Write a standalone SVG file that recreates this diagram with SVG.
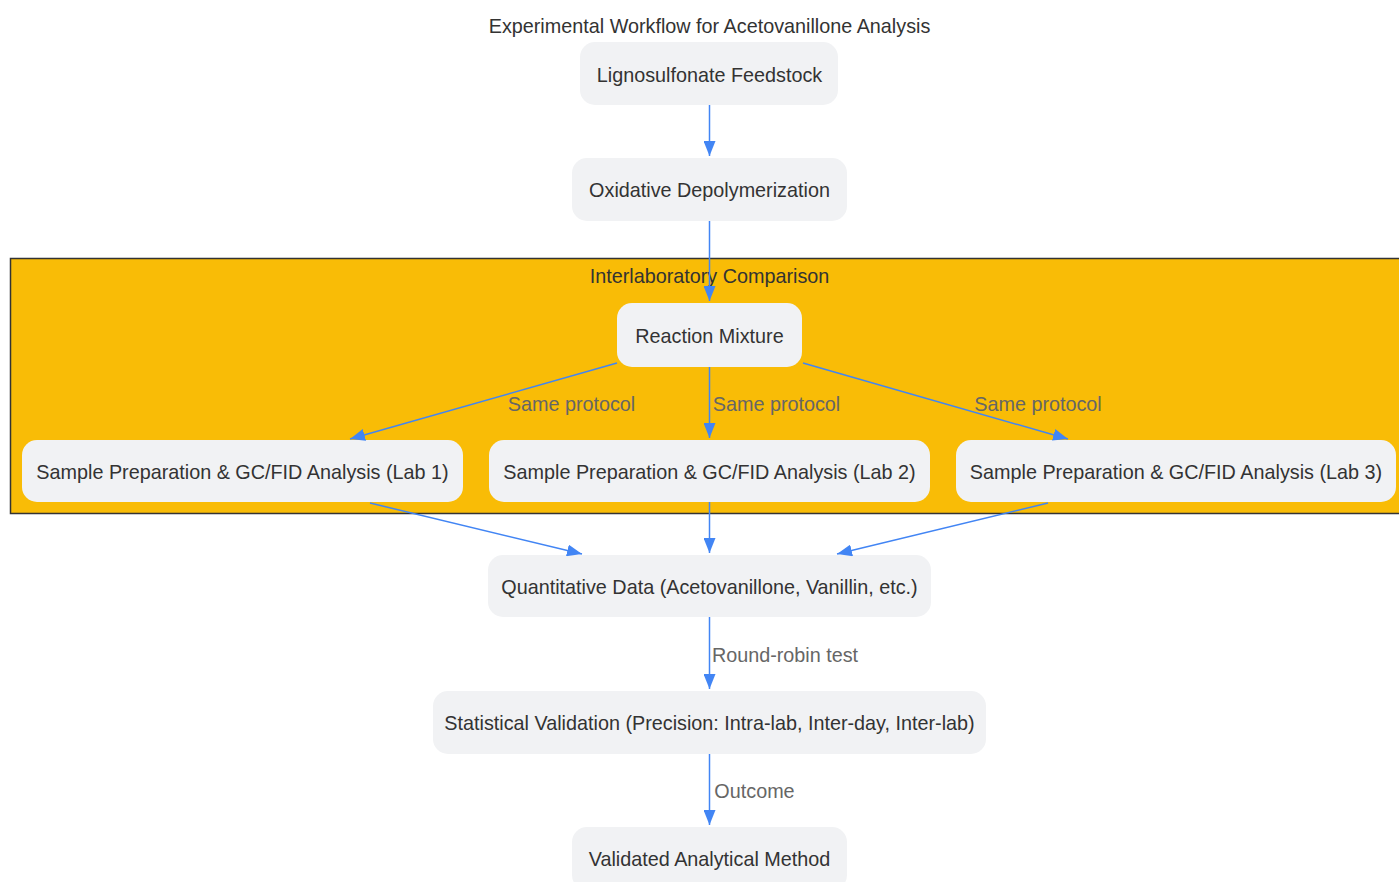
<svg xmlns="http://www.w3.org/2000/svg" width="1399" height="882" viewBox="0 0 1399 882">
<defs>
<marker id="arrow" markerUnits="userSpaceOnUse" markerWidth="16" markerHeight="12" refX="15" refY="6" orient="auto">
<path d="M0,0 L15,6 L0,12 z" fill="#4285F4"/>
</marker>
<style>
.node rect{fill:#F1F2F4;stroke:none}
.node text{font-family:"Liberation Sans",Arial,sans-serif;font-size:19.8px;fill:#333333;text-anchor:middle}
.title{font-family:"Liberation Sans",Arial,sans-serif;font-size:19.8px;fill:#333333;text-anchor:middle}
.edge{stroke:#4285F4;stroke-width:1.5;fill:none;marker-end:url(#arrow)}
.elabel{font-family:"Liberation Sans",Arial,sans-serif;font-size:19.8px;fill:#666666;text-anchor:middle}
</style>
</defs>
<rect x="0" y="0" width="1399" height="882" fill="#ffffff"/>
<text class="title" x="709.5" y="33">Experimental Workflow for Acetovanillone Analysis</text>
<g id="cluster">
<rect x="10.5" y="258.5" width="1400" height="255" fill="#F9BC06" stroke="#333333" stroke-width="1.5"/>
<text class="title" x="709.5" y="283">Interlaboratory Comparison</text>
</g>
<g id="node-lig" class="node"><rect x="580" y="42" width="258" height="63" rx="15"/><text x="709.5" y="82">Lignosulfonate Feedstock</text></g>
<g id="node-oxid" class="node"><rect x="572" y="158" width="275" height="63" rx="15"/><text x="709.5" y="197">Oxidative Depolymerization</text></g>
<g id="node-rm" class="node"><rect x="617" y="303" width="185" height="64" rx="15"/><text x="709.5" y="343">Reaction Mixture</text></g>
<g id="node-lab1" class="node"><rect x="22" y="440" width="441" height="62" rx="15"/><text x="242.5" y="479">Sample Preparation &amp; GC/FID Analysis (Lab 1)</text></g>
<g id="node-lab2" class="node"><rect x="489" y="440" width="441" height="62" rx="15"/><text x="709.5" y="479">Sample Preparation &amp; GC/FID Analysis (Lab 2)</text></g>
<g id="node-lab3" class="node"><rect x="956" y="440" width="440" height="62" rx="15"/><text x="1176" y="479">Sample Preparation &amp; GC/FID Analysis (Lab 3)</text></g>
<g id="node-quant" class="node"><rect x="488" y="555" width="443" height="62" rx="15"/><text x="709.5" y="594">Quantitative Data (Acetovanillone, Vanillin, etc.)</text></g>
<g id="node-stat" class="node"><rect x="433" y="691" width="553" height="63" rx="15"/><text x="709.5" y="730">Statistical Validation (Precision: Intra-lab, Inter-day, Inter-lab)</text></g>
<g id="node-valid" class="node"><rect x="572" y="827" width="275" height="63" rx="15"/><text x="709.5" y="866">Validated Analytical Method</text></g>
<g id="connectors">
<line class="edge" x1="709.5" y1="105" x2="709.5" y2="156"/>
<line class="edge" x1="709.5" y1="221" x2="709.5" y2="301"/>
<line class="edge" x1="617" y1="363" x2="350" y2="439"/>
<line class="edge" x1="709.5" y1="367" x2="709.5" y2="438"/>
<line class="edge" x1="803" y1="363" x2="1068" y2="439"/>
<line class="edge" x1="370" y1="503" x2="582" y2="554"/>
<line class="edge" x1="709.5" y1="502" x2="709.5" y2="553"/>
<line class="edge" x1="1048" y1="503" x2="837" y2="554"/>
<line class="edge" x1="709.5" y1="617" x2="709.5" y2="689"/>
<line class="edge" x1="709.5" y1="754" x2="709.5" y2="825"/>
<text class="elabel" x="571.5" y="411">Same protocol</text>
<text class="elabel" x="776.5" y="411">Same protocol</text>
<text class="elabel" x="1038" y="411">Same protocol</text>
<text class="elabel" x="785" y="662">Round-robin test</text>
<text class="elabel" x="754.5" y="798">Outcome</text>
</g>
</svg>
